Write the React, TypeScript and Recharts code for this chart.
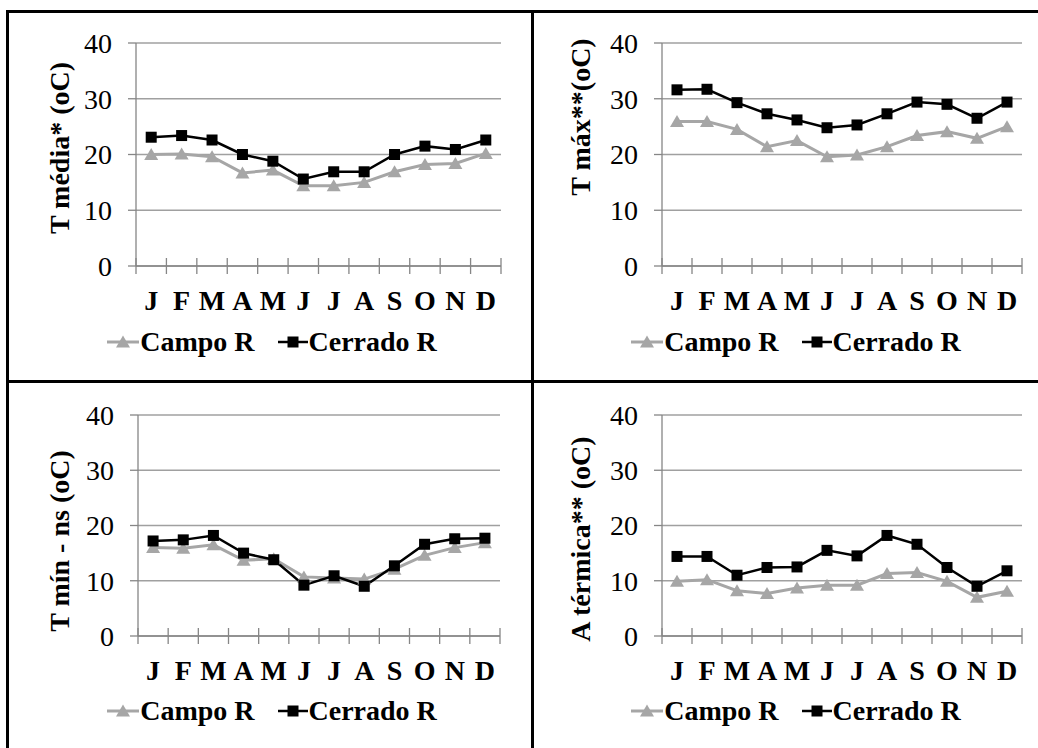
import React from "react";
import { CartesianGrid, Legend, Line, LineChart, XAxis, YAxis } from "recharts";

const MONTHS = ["J", "F", "M", "A", "M", "J", "J", "A", "S", "O", "N", "D"];
const Y_TICKS = [0, 10, 20, 30, 40];

const T_MEDIA_CAMPO = [20.0, 20.1, 19.6, 16.7, 17.2, 14.4, 14.4, 15.0, 16.9, 18.2, 18.4, 20.2];
const T_MEDIA_CERRADO = [23.1, 23.4, 22.6, 20.0, 18.8, 15.6, 16.9, 16.9, 20.0, 21.5, 20.9, 22.6];
const T_MAX_CAMPO = [25.9, 25.9, 24.5, 21.4, 22.5, 19.6, 19.9, 21.4, 23.4, 24.1, 22.9, 25.0];
const T_MAX_CERRADO = [31.6, 31.7, 29.3, 27.3, 26.2, 24.8, 25.3, 27.3, 29.4, 29.0, 26.5, 29.4];
const T_MIN_CAMPO = [16.0, 15.9, 16.5, 13.7, 14.0, 10.7, 10.5, 10.3, 12.1, 14.6, 16.0, 16.9];
const T_MIN_CERRADO = [17.2, 17.4, 18.2, 15.0, 13.8, 9.2, 10.9, 9.0, 12.7, 16.6, 17.6, 17.7];
const A_TERM_CAMPO = [9.9, 10.2, 8.2, 7.7, 8.7, 9.2, 9.2, 11.3, 11.5, 9.9, 7.0, 8.1];
const A_TERM_CERRADO = [14.4, 14.4, 11.0, 12.4, 12.5, 15.5, 14.5, 18.2, 16.6, 12.4, 9.0, 11.8];

const FONT = "'Liberation Serif', 'DejaVu Serif', 'Times New Roman', Times, serif";
const GRAY = "#a6a6a6";
const GRID = "#a0a0a0";
const AXIS = "#868686";

// boundaries (integers) get the crossing tick marks, centres (halves) get the month letters
const X_TICKS = Array.from({ length: 25 }, (_, i) => i / 2);

type Panel = {
  title: string;
  campo: number[];
  cerrado: number[];
  left: number;
  top: number;
  width: number;
  height: number;
  margin: { top: number; right: number; bottom: number; left: number };
  xAxisHeight: number;
  titleX: number;
  titleY: number;
  legendShift: number;
};

const PANELS: Panel[] = [
  {
    title: "T média* (oC)",
    campo: T_MEDIA_CAMPO,
    cerrado: T_MEDIA_CERRADO,
    left: 9, top: 13, width: 522, height: 367,
    margin: { top: 30, right: 30, bottom: 22, left: 67 },
    xAxisHeight: 60, titleX: 50, titleY: 135, legendShift: 2,
  },
  {
    title: "T máx**(oC)",
    campo: T_MAX_CAMPO,
    cerrado: T_MAX_CERRADO,
    left: 534, top: 13, width: 504, height: 367,
    margin: { top: 30, right: 16, bottom: 22, left: 68 },
    xAxisHeight: 60, titleX: 46, titleY: 104, legendShift: 10,
  },
  {
    title: "T mín - ns (oC)",
    campo: T_MIN_CAMPO,
    cerrado: T_MIN_CERRADO,
    left: 9, top: 383, width: 522, height: 365,
    margin: { top: 32, right: 31, bottom: 21, left: 69 },
    xAxisHeight: 59, titleX: 50, titleY: 158, legendShift: 2,
  },
  {
    title: "A térmica** (oC)",
    campo: A_TERM_CAMPO,
    cerrado: A_TERM_CERRADO,
    left: 534, top: 383, width: 504, height: 365,
    margin: { top: 32, right: 16, bottom: 21, left: 68 },
    xAxisHeight: 59, titleX: 46, titleY: 156, legendShift: 10,
  },
];

function MonthTick(props: any) {
  const { x, y, payload } = props;
  const v = payload.value as number;
  if (Number.isInteger(v)) {
    return <line x1={x} x2={x} y1={y - 8} y2={y + 8} stroke={AXIS} strokeWidth={1.3} />;
  }
  return (
    <text x={x} y={y + 44} textAnchor="middle" fontSize={28} fontWeight="bold" style={{ fontFamily: FONT }} fill="#000">
      {MONTHS[v - 0.5]}
    </text>
  );
}

function Triangle(props: any) {
  const { cx, cy, index } = props;
  if (cx == null || cy == null) return null;
  return (
    <polygon
      key={`t-${index}`}
      points={`${cx},${cy - 6.5} ${cx - 7},${cy + 5.5} ${cx + 7},${cy + 5.5}`}
      fill={GRAY}
    />
  );
}

function Square(props: any) {
  const { cx, cy, index } = props;
  if (cx == null || cy == null) return null;
  return <rect key={`s-${index}`} x={cx - 5.5} y={cy - 5.5} width={11} height={11} fill="#000" />;
}

// Recharts clones the label with the axis viewBox (x, y, ...), so the position lives in tx/ty
function AxisTitle({ text, tx, ty }: { text: string; tx: number; ty: number }) {
  return (
    <text
      x={tx}
      y={ty}
      transform={`rotate(-90, ${tx}, ${ty})`}
      textAnchor="middle"
      dominantBaseline="central"
      fontSize={28}
      fontWeight="bold"
      style={{ fontFamily: FONT }}
      fill="#000"
    >
      {text}
    </text>
  );
}

function LegendContent({ shift }: { shift: number }) {
  return (
    <div
      style={{
        display: "flex",
        justifyContent: "center",
        alignItems: "center",
        height: 32,
        lineHeight: "32px",
        fontFamily: FONT,
        fontSize: 28,
        fontWeight: "bold",
        color: "#000",
        transform: `translateX(${shift}px)`,
        whiteSpace: "nowrap",
      }}
    >
      <svg width={32} height={16}>
        <line x1={0} x2={32} y1={8} y2={8} stroke={GRAY} strokeWidth={3} />
        <polygon points="16,1.5 9,13.5 23,13.5" fill={GRAY} />
      </svg>
      <span style={{ marginLeft: 1 }}>Campo R</span>
      <svg width={30} height={16} style={{ marginLeft: 23 }}>
        <line x1={0} x2={30} y1={8} y2={8} stroke="#000" strokeWidth={2.5} />
        <rect x={9.5} y={2.5} width={11} height={11} fill="#000" />
      </svg>
      <span style={{ marginLeft: 1 }}>Cerrado R</span>
    </div>
  );
}

function TempChart({ p }: { p: Panel }) {
  const rows = MONTHS.map((m, i) => ({ pos: i + 0.5, month: m, campo: p.campo[i], cerrado: p.cerrado[i] }));
  return (
    <div style={{ position: "absolute", left: p.left, top: p.top, fontFamily: FONT }}>
      <LineChart width={p.width} height={p.height} data={rows} margin={p.margin} style={{ fontFamily: FONT }}>
        <CartesianGrid vertical={false} stroke={GRID} strokeWidth={1.3} />
        <XAxis
          dataKey="pos"
          type="number"
          domain={[0, 12]}
          ticks={X_TICKS}
          interval={0}
          tickSize={0}
          tickMargin={0}
          tickLine={false}
          axisLine={{ stroke: AXIS, strokeWidth: 1.3 }}
          tick={<MonthTick />}
          height={p.xAxisHeight}
        />
        <YAxis
          type="number"
          domain={[0, 40]}
          ticks={Y_TICKS}
          interval={0}
          width={60}
          tickSize={8}
          tickMargin={16}
          axisLine={{ stroke: AXIS, strokeWidth: 1.3 }}
          tickLine={{ stroke: AXIS, strokeWidth: 1.3 }}
          tick={{ fontSize: 28, fill: "#000", style: { fontFamily: FONT } }}
          label={<AxisTitle text={p.title} tx={p.titleX} ty={p.titleY} />}
        />
        <Legend
          verticalAlign="bottom"
          content={() => <LegendContent shift={p.legendShift} />}
          wrapperStyle={{ left: 0, width: p.width }}
        />
        <Line
          dataKey="campo"
          name="Campo R"
          stroke={GRAY}
          strokeWidth={3}
          dot={<Triangle />}
          activeDot={false}
          isAnimationActive={false}
        />
        <Line
          dataKey="cerrado"
          name="Cerrado R"
          stroke="#000"
          strokeWidth={2.5}
          dot={<Square />}
          activeDot={false}
          isAnimationActive={false}
        />
      </LineChart>
    </div>
  );
}

export default function App() {
  return (
    <div style={{ position: "fixed", left: 0, top: 0, width: 1038, height: 748, background: "#fff", overflow: "hidden", fontFamily: FONT }}>
      {PANELS.map((p) => (
        <TempChart key={p.title} p={p} />
      ))}
      {/* table borders: top and left edges plus the inner dividers */}
      <div style={{ position: "absolute", left: 6, top: 10, width: 1032, height: 3, background: "#000" }} />
      <div style={{ position: "absolute", left: 6, top: 10, width: 3, height: 738, background: "#000" }} />
      <div style={{ position: "absolute", left: 531, top: 10, width: 3, height: 738, background: "#000" }} />
      <div style={{ position: "absolute", left: 6, top: 380, width: 1032, height: 3, background: "#000" }} />
    </div>
  );
}
